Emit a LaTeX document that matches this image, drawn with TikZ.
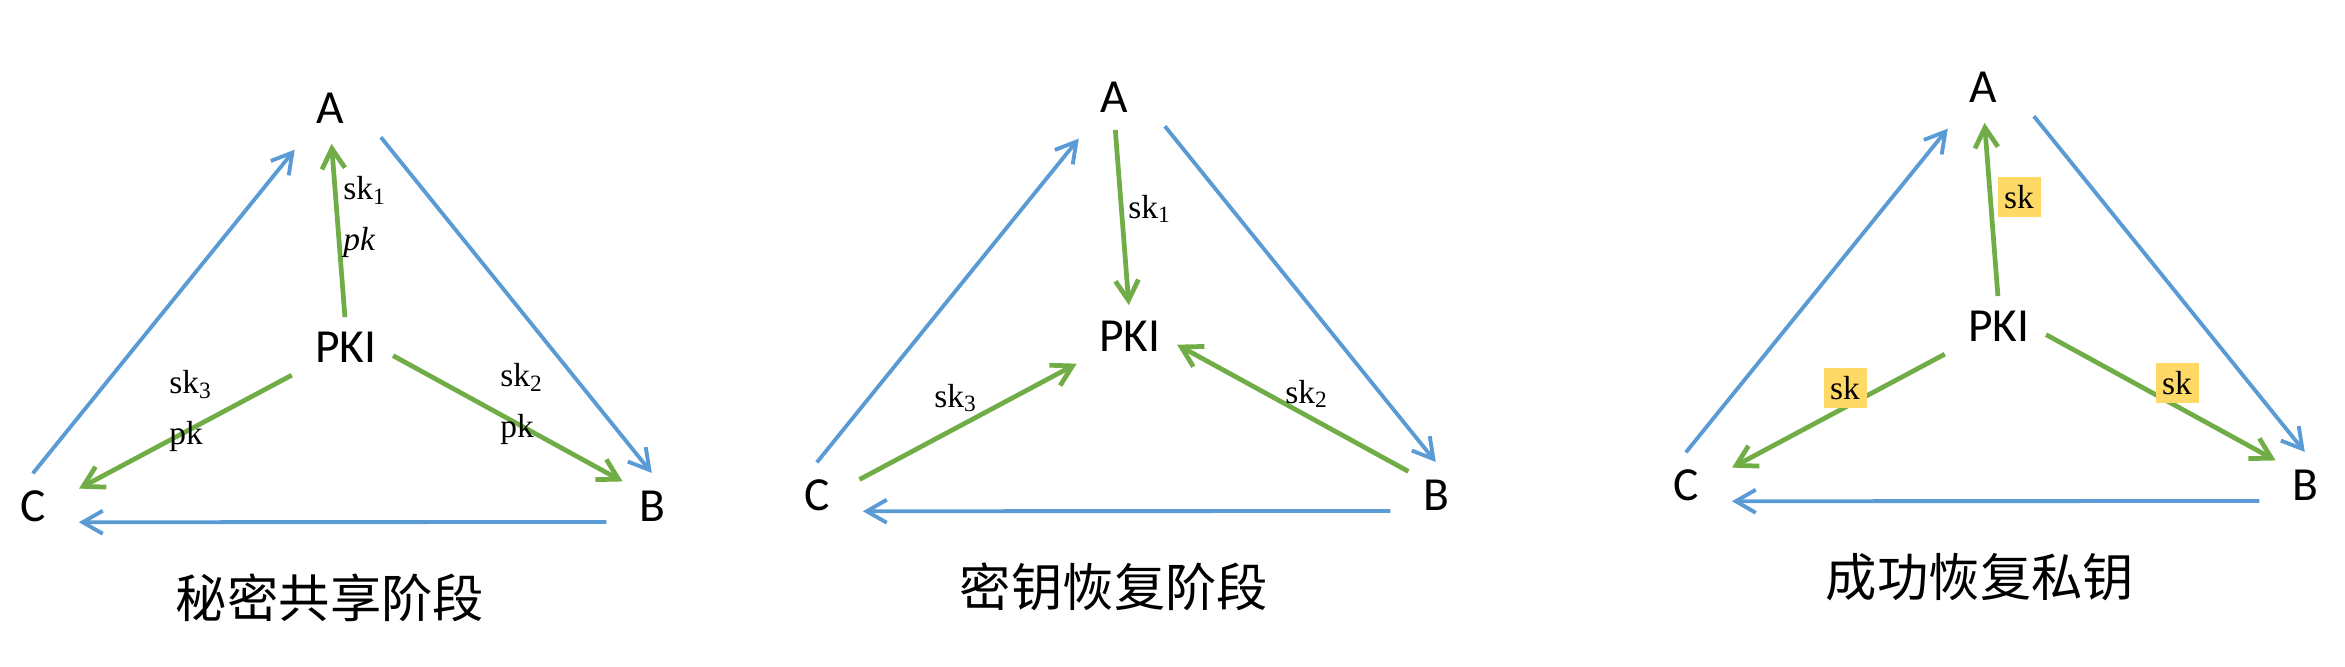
\documentclass[tikz,border=0pt]{standalone}
\usepackage{fontspec}
\setmainfont{Liberation Serif}
\newfontfamily\partyfont{Carlito}
\newfontfamily\cjkfont{Noto Sans CJK SC}
\usetikzlibrary{arrows.meta}
\definecolor{lineblue}{HTML}{5B9BD5}
\definecolor{linegreen}{HTML}{70AD47}
\definecolor{keyyellow}{HTML}{FFD966}

\begin{document}
\begin{tikzpicture}[
  x=0.01cm, y=-0.01cm,
  party/.style={inner sep=0pt, font=\partyfont\fontsize{13.5}{16}\selectfont},
  keytext/.style={inner sep=0pt, align=left, font=\fontsize{9.5}{14.5}\selectfont},
  keybox/.style={keytext, fill=keyyellow, minimum width=0.43cm, minimum height=0.40cm},
  stage/.style={font=\cjkfont\fontsize{14.6}{17}\selectfont},
  blueline/.style={draw=lineblue, line width=1.1pt, -{Straight Barb[length=2mm,width=2.3mm]}},
  greenline/.style={draw=linegreen, line width=1.35pt, -{Straight Barb[length=2mm,width=2.3mm]}}
  ]
  \useasboundingbox (0,0) rectangle (2345,666);

  % panel 1: sharing
  \begin{scope}
    \node[party] (A1) at (330,108) {A};
    \node[party] (P1) at (346,347) {PKI};
    \node[party] (C1) at (33,506) {C};
    \node[party] (B1) at (652,506) {B};
    \draw[blueline, shorten <=2.1mm, shorten >=3.3mm] (C1.north west) -- (A1.south west);
    \draw[blueline, shorten <=5.8mm, shorten >=2.2mm] (A1.north east) -- (B1.north east);
    \draw[blueline, shorten <=3.2mm, shorten >=3.25mm] (B1.south west) -- (C1.south east);
    \draw[greenline, shorten <=1.4mm, shorten >=2mm] (P1.north) -- (A1.south);
    \draw[greenline, shorten <=2.6mm, shorten >=3.7mm] (P1.south west) -- (C1.east);
    \draw[greenline, shorten <=1.8mm, shorten >=1.8mm] (P1.east) -- (B1.north west);
    \node[keytext] (kA1) at (365,217) {sk\textsubscript{1}\\\textit{pk}};
    \node[keytext] (kC1) at (191,411) {sk\textsubscript{3}\\pk};
    \node[keytext] (kB1) at (522,404) {sk\textsubscript{2}\\pk};
    \node[stage] (t1) at (330,598) {秘密共享阶段};
  \end{scope}

  % panel 2: recovery
  \begin{scope}[shift={(784,-11)}]
    \node[party] (A2) at (330,108) {A};
    \node[party] (P2) at (346,347) {PKI};
    \node[party] (C2) at (33,506) {C};
    \node[party] (B2) at (652,506) {B};
    \draw[blueline, shorten <=2.1mm, shorten >=3.3mm] (C2.north west) -- (A2.south west);
    \draw[blueline, shorten <=5.8mm, shorten >=2.2mm] (A2.north east) -- (B2.north east);
    \draw[blueline, shorten <=3.2mm, shorten >=3.25mm] (B2.south west) -- (C2.south east);
    \draw[greenline, shorten <=1.7mm, shorten >=1.5mm] (A2.south) -- (P2.north);
    \draw[greenline, shorten <=3.3mm, shorten >=2.5mm] (C2.east) -- (P2.south west);
    \draw[greenline, shorten <=1.6mm, shorten >=1.8mm] (B2.north west) -- (P2.east);
    \node[keytext] (kA2) at (366,220) {sk\textsubscript{1}};
    \node[keytext] (kC2) at (172,409) {sk\textsubscript{3}};
    \node[keytext] (kB2) at (523,405) {sk\textsubscript{2}};
    \node[stage] (t2) at (330,598) {密钥恢复阶段};
  \end{scope}

  % panel 3: recovered
  \begin{scope}[shift={(1653,-21)}]
    \node[party] (A3) at (330,108) {A};
    \node[party] (P3) at (346,347) {PKI};
    \node[party] (C3) at (33,506) {C};
    \node[party] (B3) at (652,506) {B};
    \draw[blueline, shorten <=2.1mm, shorten >=3.3mm] (C3.north west) -- (A3.south west);
    \draw[blueline, shorten <=5.8mm, shorten >=2.2mm] (A3.north east) -- (B3.north east);
    \draw[blueline, shorten <=3.2mm, shorten >=3.25mm] (B3.south west) -- (C3.south east);
    \draw[greenline, shorten <=1.4mm, shorten >=2mm] (P3.north) -- (A3.south);
    \draw[greenline, shorten <=2.6mm, shorten >=3.7mm] (P3.south west) -- (C3.east);
    \draw[greenline, shorten <=1.8mm, shorten >=1.8mm] (P3.east) -- (B3.north west);
    \node[keybox] (kA3) at (366,218) {sk};
    \node[keybox] (kC3) at (192,409) {sk};
    \node[keybox] (kB3) at (524,404) {sk};
    \node[stage] (t3) at (327,598) {成功恢复私钥};
  \end{scope}
\end{tikzpicture}
\end{document}
